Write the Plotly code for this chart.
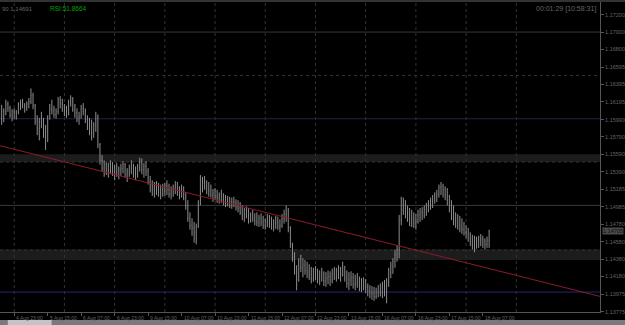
import plotly.graph_objects as go

# ---------------- data (H1 bars, 4 Aug 16:00 .. 18 Aug 10:00) ----------------
opens = [
    1.1616, 1.1610, 1.1601, 1.1608, 1.1617, 1.1612, 1.1604, 1.1608, 1.1603, 1.1607,
    1.1616, 1.1618, 1.1615, 1.1614, 1.1617, 1.1620, 1.1627, 1.1615, 1.1597, 1.1589,
    1.1596, 1.1594, 1.1585, 1.1575, 1.1601, 1.1612, 1.1610, 1.1605, 1.1608, 1.1622,
    1.1617, 1.1612, 1.1610, 1.1605, 1.1618, 1.1623, 1.1611, 1.1607, 1.1601, 1.1603,
    1.1612, 1.1609, 1.1599, 1.1592, 1.1588, 1.1584, 1.1592, 1.1601, 1.1570, 1.1552,
    1.1543, 1.1547, 1.1541, 1.1539, 1.1545, 1.1540, 1.1543, 1.1539, 1.1541, 1.1543,
    1.1547, 1.1536, 1.1539, 1.1542, 1.1545, 1.1541, 1.1535, 1.1544, 1.1550, 1.1541,
    1.1545, 1.1539, 1.1527, 1.1524, 1.1518, 1.1521, 1.1520, 1.1515, 1.1518, 1.1519,
    1.1522, 1.1518, 1.1513, 1.1518, 1.1520, 1.1524, 1.1515, 1.1512, 1.1518, 1.1510,
    1.1499, 1.1485, 1.1477, 1.1474, 1.1469, 1.1476, 1.1502, 1.1524, 1.1527, 1.1522,
    1.1520, 1.1517, 1.1512, 1.1514, 1.1511, 1.1509, 1.1512, 1.1507, 1.1510, 1.1505,
    1.1507, 1.1503, 1.1504, 1.1503, 1.1499, 1.1497, 1.1492, 1.1488, 1.1490, 1.1495,
    1.1483, 1.1488, 1.1484, 1.1482, 1.1480, 1.1485, 1.1481, 1.1477, 1.1481, 1.1483,
    1.1479, 1.1476, 1.1479, 1.1481, 1.1475, 1.1477, 1.1485, 1.1490, 1.1495, 1.1474,
    1.1454, 1.1439, 1.1425, 1.1414, 1.1435, 1.1428, 1.1431, 1.1425, 1.1423, 1.1420,
    1.1416, 1.1423, 1.1421, 1.1415, 1.1418, 1.1422, 1.1413, 1.1416, 1.1418, 1.1414,
    1.1421, 1.1424, 1.1417, 1.1427, 1.1420, 1.1430, 1.1416, 1.1410, 1.1414, 1.1417,
    1.1409, 1.1412, 1.1415, 1.1407, 1.1409, 1.1412, 1.1405, 1.1402, 1.1400, 1.1398,
    1.1395, 1.1399, 1.1402, 1.1400, 1.1405, 1.1408, 1.1412, 1.1423, 1.1430, 1.1435,
    1.1443, 1.1449, 1.1483, 1.1500, 1.1495, 1.1492, 1.1488, 1.1483, 1.1485, 1.1479,
    1.1481, 1.1489, 1.1492, 1.1489, 1.1495, 1.1497, 1.1499, 1.1504, 1.1506, 1.1511,
    1.1513, 1.1520, 1.1522, 1.1518, 1.1512, 1.1506, 1.1497, 1.1489, 1.1483, 1.1481,
    1.1477, 1.1474, 1.1472, 1.1469, 1.1467, 1.1462, 1.1458, 1.1454, 1.1455, 1.1458,
    1.1460, 1.1461, 1.1458, 1.1455, 1.1460,
]
highs = [
    1.1625, 1.1616, 1.1612, 1.1622, 1.1620, 1.1615, 1.1611, 1.1612, 1.1610, 1.1619,
    1.1622, 1.1623, 1.1618, 1.1620, 1.1624, 1.1635, 1.1630, 1.1617, 1.1604, 1.1601,
    1.1608, 1.1601, 1.1593, 1.1604, 1.1617, 1.1622, 1.1615, 1.1612, 1.1625, 1.1626,
    1.1623, 1.1617, 1.1615, 1.1622, 1.1627, 1.1625, 1.1617, 1.1612, 1.1608, 1.1616,
    1.1618, 1.1612, 1.1604, 1.1601, 1.1599, 1.1596, 1.1608, 1.1605, 1.1572, 1.1558,
    1.1552, 1.1550, 1.1549, 1.1552, 1.1550, 1.1547, 1.1549, 1.1545, 1.1548, 1.1551,
    1.1549, 1.1543, 1.1547, 1.1552, 1.1548, 1.1545, 1.1548, 1.1555, 1.1554, 1.1549,
    1.1551, 1.1543, 1.1534, 1.1529, 1.1527, 1.1528, 1.1526, 1.1524, 1.1525, 1.1526,
    1.1529, 1.1525, 1.1522, 1.1524, 1.1528, 1.1527, 1.1522, 1.1524, 1.1522, 1.1515,
    1.1506, 1.1492, 1.1485, 1.1481, 1.1479, 1.1506, 1.1535, 1.1533, 1.1534, 1.1529,
    1.1527, 1.1524, 1.1519, 1.1520, 1.1518, 1.1515, 1.1518, 1.1514, 1.1512, 1.1511,
    1.1510, 1.1509, 1.1510, 1.1507, 1.1506, 1.1504, 1.1500, 1.1497, 1.1499, 1.1497,
    1.1492, 1.1495, 1.1491, 1.1492, 1.1489, 1.1491, 1.1488, 1.1485, 1.1490, 1.1489,
    1.1487, 1.1484, 1.1488, 1.1487, 1.1484, 1.1490, 1.1495, 1.1500, 1.1497, 1.1476,
    1.1457, 1.1446, 1.1431, 1.1439, 1.1443, 1.1439, 1.1437, 1.1435, 1.1432, 1.1429,
    1.1428, 1.1430, 1.1427, 1.1425, 1.1428, 1.1424, 1.1423, 1.1425, 1.1424, 1.1427,
    1.1429, 1.1428, 1.1431, 1.1429, 1.1435, 1.1430, 1.1425, 1.1423, 1.1424, 1.1422,
    1.1420, 1.1422, 1.1418, 1.1416, 1.1417, 1.1415, 1.1410, 1.1408, 1.1407, 1.1406,
    1.1405, 1.1408, 1.1410, 1.1412, 1.1414, 1.1416, 1.1428, 1.1435, 1.1439, 1.1449,
    1.1454, 1.1489, 1.1510, 1.1509, 1.1506, 1.1500, 1.1497, 1.1495, 1.1492, 1.1490,
    1.1495, 1.1497, 1.1498, 1.1500, 1.1503, 1.1506, 1.1509, 1.1512, 1.1515, 1.1518,
    1.1524, 1.1527, 1.1525, 1.1522, 1.1520, 1.1512, 1.1506, 1.1500, 1.1492, 1.1490,
    1.1488, 1.1485, 1.1481, 1.1477, 1.1474, 1.1469, 1.1466, 1.1465, 1.1464, 1.1465,
    1.1467, 1.1465, 1.1462, 1.1464, 1.1472,
]
lows = [
    1.1599, 1.1593, 1.1596, 1.1604, 1.1608, 1.1601, 1.1597, 1.1600, 1.1599, 1.1605,
    1.1610, 1.1612, 1.1607, 1.1609, 1.1612, 1.1617, 1.1611, 1.1593, 1.1581, 1.1575,
    1.1589, 1.1578, 1.1564, 1.1573, 1.1599, 1.1605, 1.1601, 1.1600, 1.1605, 1.1612,
    1.1608, 1.1603, 1.1601, 1.1604, 1.1614, 1.1608, 1.1601, 1.1596, 1.1593, 1.1600,
    1.1604, 1.1595, 1.1587, 1.1581, 1.1575, 1.1578, 1.1585, 1.1566, 1.1547, 1.1539,
    1.1533, 1.1535, 1.1532, 1.1536, 1.1534, 1.1529, 1.1533, 1.1530, 1.1534, 1.1537,
    1.1532, 1.1527, 1.1533, 1.1536, 1.1532, 1.1529, 1.1532, 1.1539, 1.1536, 1.1532,
    1.1534, 1.1524, 1.1515, 1.1511, 1.1509, 1.1512, 1.1510, 1.1507, 1.1510, 1.1511,
    1.1512, 1.1509, 1.1507, 1.1510, 1.1513, 1.1511, 1.1507, 1.1509, 1.1506, 1.1495,
    1.1481, 1.1472, 1.1465, 1.1457, 1.1455, 1.1474, 1.1500, 1.1515, 1.1518, 1.1513,
    1.1510, 1.1509, 1.1504, 1.1506, 1.1503, 1.1502, 1.1503, 1.1500, 1.1498, 1.1499,
    1.1497, 1.1496, 1.1498, 1.1494, 1.1492, 1.1489, 1.1483, 1.1481, 1.1485, 1.1479,
    1.1480, 1.1481, 1.1477, 1.1476, 1.1475, 1.1476, 1.1473, 1.1472, 1.1475, 1.1474,
    1.1472, 1.1470, 1.1473, 1.1472, 1.1469, 1.1474, 1.1479, 1.1481, 1.1469, 1.1451,
    1.1435, 1.1420, 1.1402, 1.1412, 1.1423, 1.1417, 1.1420, 1.1416, 1.1414, 1.1410,
    1.1412, 1.1414, 1.1410, 1.1408, 1.1412, 1.1407, 1.1406, 1.1409, 1.1407, 1.1410,
    1.1414, 1.1412, 1.1415, 1.1412, 1.1418, 1.1412, 1.1405, 1.1402, 1.1407, 1.1404,
    1.1402, 1.1405, 1.1401, 1.1400, 1.1402, 1.1399, 1.1395, 1.1393, 1.1391, 1.1390,
    1.1392, 1.1394, 1.1395, 1.1393, 1.1395, 1.1387, 1.1406, 1.1416, 1.1421, 1.1428,
    1.1435, 1.1439, 1.1477, 1.1489, 1.1485, 1.1481, 1.1476, 1.1475, 1.1474, 1.1472,
    1.1479, 1.1481, 1.1483, 1.1485, 1.1488, 1.1492, 1.1495, 1.1497, 1.1502, 1.1504,
    1.1509, 1.1512, 1.1509, 1.1506, 1.1500, 1.1492, 1.1483, 1.1477, 1.1474, 1.1472,
    1.1469, 1.1467, 1.1465, 1.1462, 1.1458, 1.1453, 1.1449, 1.1446, 1.1450, 1.1451,
    1.1453, 1.1451, 1.1449, 1.1451, 1.1451,
]
closes = [
    1.1610, 1.1601, 1.1608, 1.1617, 1.1612, 1.1604, 1.1608, 1.1603, 1.1607, 1.1616,
    1.1618, 1.1615, 1.1614, 1.1617, 1.1620, 1.1627, 1.1615, 1.1597, 1.1589, 1.1596,
    1.1594, 1.1585, 1.1575, 1.1601, 1.1612, 1.1610, 1.1605, 1.1608, 1.1622, 1.1617,
    1.1612, 1.1610, 1.1605, 1.1618, 1.1623, 1.1611, 1.1607, 1.1601, 1.1603, 1.1612,
    1.1609, 1.1599, 1.1592, 1.1588, 1.1584, 1.1592, 1.1601, 1.1570, 1.1552, 1.1543,
    1.1547, 1.1541, 1.1539, 1.1545, 1.1540, 1.1543, 1.1539, 1.1541, 1.1543, 1.1547,
    1.1536, 1.1539, 1.1542, 1.1545, 1.1541, 1.1535, 1.1544, 1.1550, 1.1541, 1.1545,
    1.1539, 1.1527, 1.1524, 1.1518, 1.1521, 1.1520, 1.1515, 1.1518, 1.1519, 1.1522,
    1.1518, 1.1513, 1.1518, 1.1520, 1.1524, 1.1515, 1.1512, 1.1518, 1.1510, 1.1499,
    1.1485, 1.1477, 1.1474, 1.1469, 1.1476, 1.1502, 1.1524, 1.1527, 1.1522, 1.1520,
    1.1517, 1.1512, 1.1514, 1.1511, 1.1509, 1.1512, 1.1507, 1.1510, 1.1505, 1.1507,
    1.1503, 1.1504, 1.1503, 1.1499, 1.1497, 1.1492, 1.1488, 1.1490, 1.1495, 1.1483,
    1.1488, 1.1484, 1.1482, 1.1480, 1.1485, 1.1481, 1.1477, 1.1481, 1.1483, 1.1479,
    1.1476, 1.1479, 1.1481, 1.1475, 1.1477, 1.1485, 1.1490, 1.1495, 1.1474, 1.1454,
    1.1439, 1.1425, 1.1414, 1.1435, 1.1428, 1.1431, 1.1425, 1.1423, 1.1420, 1.1416,
    1.1423, 1.1421, 1.1415, 1.1418, 1.1422, 1.1413, 1.1416, 1.1418, 1.1414, 1.1421,
    1.1424, 1.1417, 1.1427, 1.1420, 1.1430, 1.1416, 1.1410, 1.1414, 1.1417, 1.1409,
    1.1412, 1.1415, 1.1407, 1.1409, 1.1412, 1.1405, 1.1402, 1.1400, 1.1398, 1.1395,
    1.1399, 1.1402, 1.1400, 1.1405, 1.1408, 1.1412, 1.1423, 1.1430, 1.1435, 1.1443,
    1.1449, 1.1483, 1.1500, 1.1495, 1.1492, 1.1488, 1.1483, 1.1485, 1.1479, 1.1481,
    1.1489, 1.1492, 1.1489, 1.1495, 1.1497, 1.1499, 1.1504, 1.1506, 1.1511, 1.1513,
    1.1520, 1.1522, 1.1518, 1.1512, 1.1506, 1.1497, 1.1489, 1.1483, 1.1481, 1.1477,
    1.1474, 1.1472, 1.1469, 1.1467, 1.1462, 1.1458, 1.1454, 1.1455, 1.1458, 1.1460,
    1.1461, 1.1458, 1.1455, 1.1460, 1.1470,
]
bar_index = list(range(len(closes)))

# time axis labels (bar index -> label)
time_label_idx = [7, 23, 39, 55, 71, 87, 103, 119, 135, 151, 167, 183, 199, 215, 231]
time_labels = ["4 Aug 23:00", "5 Aug 15:00", "6 Aug 07:00", "6 Aug 23:00", "9 Aug 15:00",
               "10 Aug 07:00", "10 Aug 23:00", "11 Aug 15:00", "12 Aug 07:00", "12 Aug 23:00",
               "13 Aug 15:00", "16 Aug 07:00", "16 Aug 23:00", "17 Aug 15:00", "18 Aug 07:00"]
grid_idx = [7, 31, 55, 79, 103, 127, 151, 175, 199, 223, 247]
x_view = [0.21, 287.0]

# price axis
price_ticks = [1.17200, 1.17000, 1.16800, 1.16595, 1.16395, 1.16195, 1.15990, 1.15790, 1.15590,
               1.15390, 1.15185, 1.14985, 1.14780, 1.14580, 1.14380, 1.14180, 1.13975, 1.13775]
price_labels = ["%.5f" % p for p in price_ticks]
y_view = [1.13770, 1.17347]
grid_prices = [1.1650, 1.1550, 1.14485]

# drawn objects
grey_levels = [1.1700, 1.1500]
blue_levels = [1.1600, 1.1400]
zones = [(1.1550, 1.1559), (1.1437, 1.1449)]
trend_x = [0, 287]
trend_y = [1.1569, 1.1395]
last_price = 1.14705
rsi_text = "RSI:51.8664"
info_text = "90 1.14691"
timer_text = "00:01:29 [10:58:31]"

# ---------------- styling ----------------
TXT = "#646464"
AX = "#555555"
FONT = "Liberation Sans"

fig = go.Figure()

shapes = []
for lo, hi in zones:
    shapes.append(dict(type="rect", xref="paper", x0=0, x1=1, yref="y", y0=lo, y1=hi,
                       fillcolor="#1c1c1c", line=dict(width=0), layer="below"))
for gp in grid_prices:
    shapes.append(dict(type="line", xref="paper", x0=0, x1=1, yref="y", y0=gp, y1=gp,
                       line=dict(color="#333333", width=1, dash="dot"), layer="below"))
for gx in grid_idx:
    shapes.append(dict(type="line", xref="x", x0=gx, x1=gx, yref="paper", y0=0, y1=1,
                       line=dict(color="#333333", width=1, dash="dot"), layer="below"))
for lv in grey_levels:
    shapes.append(dict(type="line", xref="paper", x0=0, x1=1, yref="y", y0=lv, y1=lv,
                       line=dict(color="#383838", width=1), layer="below"))
for lv, col in zip(blue_levels, ["#22224a", "#262678"]):
    shapes.append(dict(type="line", xref="paper", x0=0, x1=1, yref="y", y0=lv, y1=lv,
                       line=dict(color=col, width=1), layer="below"))
# window bottom strip and top border
shapes.append(dict(type="rect", xref="paper", x0=-0.01, x1=1.05, yref="paper", y0=-0.0258, y1=-0.05,
                   fillcolor="#7a7a7a", line=dict(width=0)))
shapes.append(dict(type="rect", xref="paper", x0=0.013, x1=0.086, yref="paper", y0=-0.0258, y1=-0.05,
                   fillcolor="#c4c4c4", line=dict(width=0)))
shapes.append(dict(type="rect", xref="paper", x0=-0.01, x1=1.05, yref="paper", y0=1.0, y1=1.007,
                   fillcolor="#333333", line=dict(width=0)))

fig.add_trace(go.Scatter(x=trend_x, y=trend_y, mode="lines",
                         line=dict(color="#8a1c2a", width=1), hoverinfo="skip"))

fig.add_trace(go.Ohlc(x=bar_index, open=opens, high=highs, low=lows, close=closes,
                      increasing=dict(line=dict(color="#8e8e8e", width=1)),
                      decreasing=dict(line=dict(color="#8e8e8e", width=1)),
                      tickwidth=0.15))

annotations = []
for xi, lab in zip(time_label_idx, time_labels):
    annotations.append(dict(x=xi, xref="x", y=0, yref="paper", text=lab, showarrow=False,
                            xanchor="left", yanchor="top", xshift=0, yshift=-1,
                            font=dict(size=5, color=TXT, family=FONT)))
annotations.append(dict(x=0, xref="paper", y=1, yref="paper", text=info_text, showarrow=False,
                        xanchor="left", yanchor="top", yshift=-2,
                        font=dict(size=6, color=TXT, family=FONT)))
annotations.append(dict(x=48 / 604, xref="paper", y=1, yref="paper", text=rsi_text, showarrow=False,
                        xanchor="left", yanchor="top", yshift=-1,
                        font=dict(size=6.5, color="#00a000", family=FONT)))
annotations.append(dict(x=1, xref="paper", y=1, yref="paper", text=timer_text, showarrow=False,
                        xanchor="right", yanchor="top", xshift=-2, yshift=-1,
                        font=dict(size=7, color=TXT, family=FONT)))
annotations.append(dict(x=1, xref="paper", y=last_price, yref="y", text="%.5f" % last_price,
                        showarrow=False, xanchor="left", yanchor="middle", xshift=2,
                        bgcolor="#4a4a4a", borderpad=0,
                        font=dict(size=5.5, color="#111111", family=FONT)))

fig.update_layout(
    width=625, height=325,
    margin=dict(l=0, r=21, t=2, b=13),
    paper_bgcolor="#000000", plot_bgcolor="#000000",
    showlegend=False,
    shapes=shapes,
    annotations=annotations,
    xaxis=dict(range=x_view, rangeslider=dict(visible=False), showgrid=False, zeroline=False,
               tickvals=time_label_idx, ticktext=[""] * len(time_label_idx),
               ticks="outside", ticklen=3, tickcolor=AX, showline=True, linecolor=AX, linewidth=1),
    yaxis=dict(range=y_view, side="right", showgrid=False, zeroline=False,
               tickvals=price_ticks, ticktext=price_labels,
               ticks="outside", ticklen=3, tickcolor=AX, showline=True, linecolor=AX, linewidth=1,
               tickfont=dict(size=5.5, color=TXT, family=FONT)),
)

fig.write_html("out.html")
